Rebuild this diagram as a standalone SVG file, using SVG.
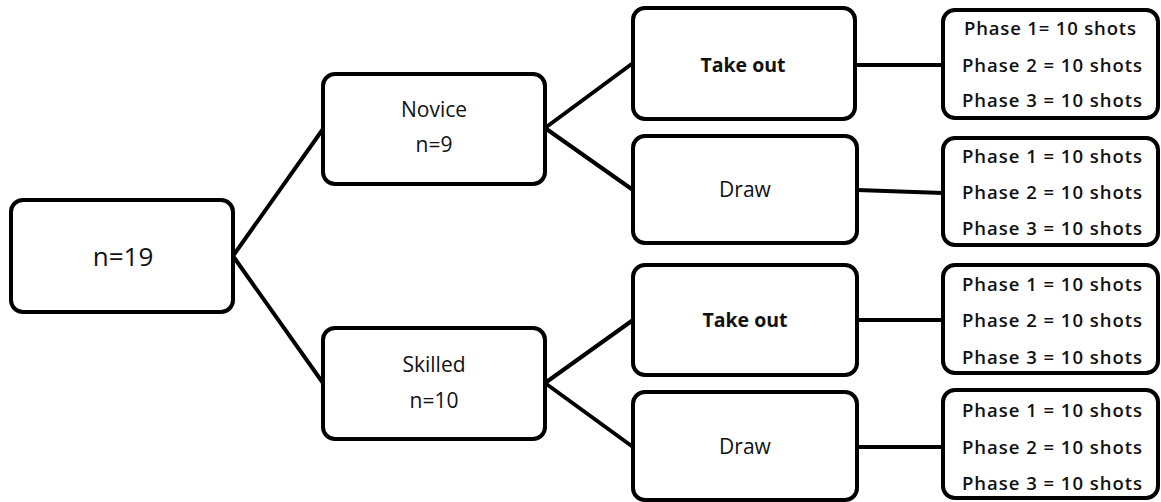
<svg xmlns="http://www.w3.org/2000/svg" width="1161" height="502" viewBox="0 0 1161 502">
<style>
.box{fill:#fff;stroke:#000;stroke-width:4}
.ln{stroke:#000;stroke-width:4;fill:none}
text{font-family:"Open Sans","Liberation Sans",sans-serif;fill:#111;text-anchor:middle}
.r{font-size:21px}
.b{font-size:19.5px;font-weight:bold}
.p{font-size:18.5px;font-weight:600}
</style>
<rect width="1161" height="502" fill="#fff"/>
<g id="connectors">
<path class="ln" d="M233,256 L323,129 M233,256 L323,383"/>
<path class="ln" d="M545,128 L633,63 M545,128 L633,190"/>
<path class="ln" d="M545,383 L633,320 M545,383 L633,447"/>
<path class="ln" d="M855,65 L943,65 M857,190 L943,193 M857,320 L943,320 M857,447 L943,447"/>
</g>
<g id="root"><rect class="box" x="11" y="200" width="222" height="112" rx="12"/><text x="123" y="266" style="font-size:26px">n=19</text></g>
<g id="novice"><rect class="box" x="323" y="74" width="222" height="110" rx="12"/><text class="r" x="434" y="117">Novice</text><text class="r" x="434" y="152">n=9</text></g>
<g id="skilled"><rect class="box" x="323" y="328" width="222" height="111" rx="12"/><text class="r" x="434" y="372">Skilled</text><text class="r" x="434" y="408">n=10</text></g>
<g id="takeout1"><rect class="box" x="633" y="8" width="222" height="111" rx="12"/><text class="b" x="743" y="72">Take out</text></g>
<g id="draw1"><rect class="box" x="633" y="136" width="224" height="107" rx="12"/><text class="r" x="745" y="197">Draw</text></g>
<g id="takeout2"><rect class="box" x="633" y="265" width="224" height="110" rx="12"/><text class="b" x="745" y="327">Take out</text></g>
<g id="draw2"><rect class="box" x="633" y="392" width="224" height="108" rx="12"/><text class="r" x="745" y="454">Draw</text></g>
<g id="phases1"><rect class="box" x="943" y="10" width="215" height="108" rx="12"/><text class="p" x="1050" y="35" textLength="172" lengthAdjust="spacing">Phase 1= 10 shots</text><text class="p" x="1052" y="72" textLength="180" lengthAdjust="spacing">Phase 2 = 10 shots</text><text class="p" x="1052" y="107" textLength="180" lengthAdjust="spacing">Phase 3 = 10 shots</text></g>
<g id="phases2"><rect class="box" x="943" y="138" width="215" height="107" rx="12"/><text class="p" x="1052" y="163" textLength="180" lengthAdjust="spacing">Phase 1 = 10 shots</text><text class="p" x="1052" y="199" textLength="180" lengthAdjust="spacing">Phase 2 = 10 shots</text><text class="p" x="1052" y="235" textLength="180" lengthAdjust="spacing">Phase 3 = 10 shots</text></g>
<g id="phases3"><rect class="box" x="943" y="265" width="215" height="108" rx="12"/><text class="p" x="1052" y="291" textLength="180" lengthAdjust="spacing">Phase 1 = 10 shots</text><text class="p" x="1052" y="327" textLength="180" lengthAdjust="spacing">Phase 2 = 10 shots</text><text class="p" x="1052" y="364" textLength="180" lengthAdjust="spacing">Phase 3 = 10 shots</text></g>
<g id="phases4"><rect class="box" x="943" y="390" width="215" height="108" rx="12"/><text class="p" x="1052" y="417" textLength="180" lengthAdjust="spacing">Phase 1 = 10 shots</text><text class="p" x="1052" y="454" textLength="180" lengthAdjust="spacing">Phase 2 = 10 shots</text><text class="p" x="1052" y="490" textLength="180" lengthAdjust="spacing">Phase 3 = 10 shots</text></g>
</svg>
